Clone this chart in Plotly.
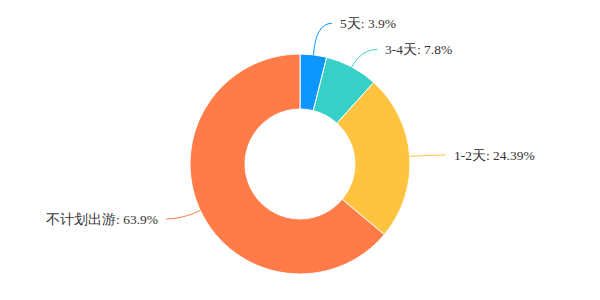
import math
import plotly.graph_objects as go

labels = ["5天", "3-4天", "1-2天", "不计划出游"]
values = [3.9, 7.8, 24.39, 63.9]
colors = ["#0e96ff", "#37d0c9", "#ffc43f", "#ff7b47"]

W, H = 600, 300
CX, CY, R = 300, 164, 110
HOLE = 0.5
R2, L2, GAP, MINGAP = 130, 16, 6, 26

fig = go.Figure(go.Pie(
    labels=labels, values=values, sort=False, direction="clockwise", rotation=0,
    hole=HOLE, textinfo="none", hoverinfo="label+percent",
    marker=dict(colors=colors, line=dict(color="white", width=1)),
    domain=dict(x=[(CX - R) / W, (CX + R) / W], y=[1 - (CY + R) / H, 1 - (CY - R) / H]),
    showlegend=False,
))

total = sum(values)
items = []
cum = 0
for lab, v, c in zip(labels, values, colors):
    mid = (cum + v / 2) / total * 2 * math.pi
    cum += v
    dx, dy = math.sin(mid), -math.cos(mid)
    items.append(dict(lab=lab, v=v, c=c, dx=dx, dy=dy,
                      ex=CX + R * dx, ey=CY + R * dy,
                      kx=CX + R2 * dx, ky=CY + R2 * dy,
                      right=dx >= 0))

# simple overlap avoidance on each side (push upper labels up)
for side in (True, False):
    grp = sorted([it for it in items if it["right"] == side], key=lambda d: -d["ky"])
    for a, b in zip(grp, grp[1:]):
        if a["ky"] - b["ky"] < MINGAP:
            b["ky"] = a["ky"] - MINGAP

px = lambda x: x / W
py = lambda y: 1 - y / H

shapes, annotations = [], []
for it in items:
    sgn = 1 if it["right"] else -1
    endx = it["kx"] + sgn * L2
    path = (f"M {px(it['ex'])},{py(it['ey'])} Q {px(it['kx'])},{py(it['ky'])} "
            f"{px(endx)},{py(it['ky'])}")
    shapes.append(dict(type="path", path=path, xref="paper", yref="paper",
                       line=dict(color=it["c"], width=1)))
    annotations.append(dict(
        x=px(endx + sgn * GAP), y=py(it["ky"]), xref="paper", yref="paper",
        text=f"{it['lab']}: {it['v']}%", showarrow=False,
        xanchor="left" if it["right"] else "right", yanchor="middle",
        font=dict(family="Liberation Serif, serif", size=13.5, color="#333333")))

fig.update_layout(width=W, height=H, margin=dict(l=0, r=0, t=0, b=0),
                  paper_bgcolor="white", plot_bgcolor="white",
                  shapes=shapes, annotations=annotations)
fig.write_html("out.html")
